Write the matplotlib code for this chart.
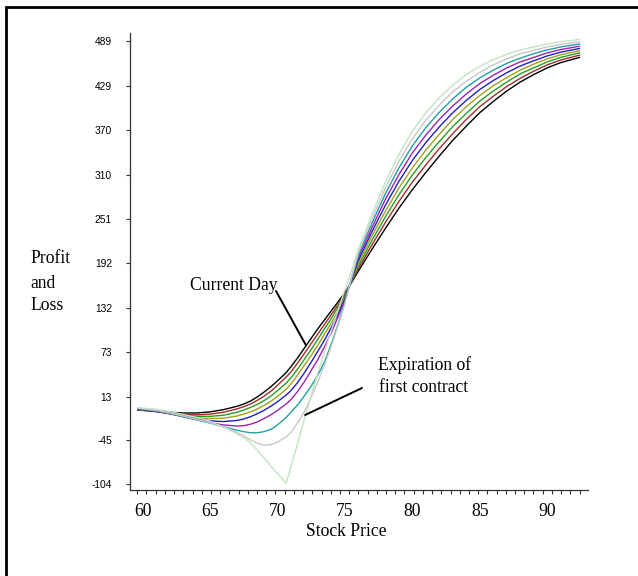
import numpy as np
import matplotlib.pyplot as plt
from matplotlib.patches import Rectangle

# stock price grid
price = [59.65, 61, 62, 63, 64, 65, 66, 67, 67.5, 68, 68.5, 69, 69.5, 70, 70.64, 71,
         71.5, 72, 72.5, 73, 73.5, 74, 74.5, 75, 75.5, 76, 77, 78, 79, 80, 81, 82,
         83, 84, 85, 86, 87, 88, 89, 90, 91, 92.4]

# P&L curves, from current day to expiration of first contract
day0 = [-5, -6.5, -8, -9, -9, -7.5, -4.5, 0, 3, 7, 12.5, 19, 26, 34, 45, 53,
        65, 78, 91, 104, 116, 128, 140, 152,
        166, 181, 210, 238, 265, 290, 313, 335, 356, 375, 393, 408, 422, 434, 444, 453, 460, 467]
day1 = [-5, -7, -9, -11, -11.5, -10.5, -8, -3.5, -0.5, 3, 8, 13.5, 20, 28, 39, 46,
        58, 71, 84, 97, 110, 123, 136, 150,
        167, 184.5, 216, 246, 274, 300, 323, 345, 365, 384, 401, 415, 428, 439, 448.5, 457, 463.5, 470]
day2 = [-4.5, -7, -9.5, -12, -13.5, -13.5, -12, -8, -5, -1.5, 2.5, 7.5, 13.5, 21, 31, 38,
        50, 63, 76, 90, 104, 118, 133, 148,
        168, 188, 222, 253.5, 283, 309.5, 333, 354.5, 374.5, 392, 408.5, 422, 434, 445, 453, 461, 467, 473]
day3 = [-4, -7, -10, -13, -15.5, -16.5, -16, -13, -10.5, -7.5, -3.5, 1, 6.5, 13, 23, 30,
        42, 55, 68, 82, 97, 112, 128, 146,
        169, 192, 228, 261, 292, 319, 343, 364, 384, 401, 416, 429, 440, 450, 458, 465, 470.5, 476]
day4 = [-4, -7, -10, -13.5, -17, -19.5, -20.5, -19, -17, -14, -10, -5.5, 0, 6, 15, 21,
        32, 45, 59, 74, 89, 106, 124, 144,
        170, 195.5, 233.5, 269, 301, 329, 353, 374, 393, 409.5, 424, 436, 446.5, 455.5, 462.5, 469, 474, 479]
day5 = [-3.5, -6.5, -10, -14, -18, -22, -25, -26.5, -26, -24, -21, -16.5, -11.5, -5.5, 3, 9,
        20, 33, 48, 63, 80, 99, 120, 142,
        171, 199, 239, 277, 310, 339, 363, 384, 402, 418, 432, 443, 453, 461, 467, 473, 477.5, 482]
day6 = [-3, -6, -9.5, -14, -18, -22.5, -27.5, -32, -34, -35.5, -35.5, -34, -31, -25, -15, -8,
        2, 14, 27, 42, 60, 84, 110, 140,
        172, 202.5, 245, 284.5, 319, 348.5, 373, 393.5, 411.5, 427, 439.5, 450, 459, 466, 472, 477, 481, 485]
day7 = [-2.5, -5.5, -9, -13, -17.5, -22, -27.5, -35, -39.5, -45, -49.5, -52, -51.5, -48, -41, -35,
        -22, -7, 12, 33, 56, 81, 108, 137,
        173, 206, 251, 292, 328, 358, 383, 403, 421, 435, 447, 457, 465, 472, 476.5, 481, 484.5, 488]
expiry = [-2, -4, -7, -11, -15, -20, -28, -37, -42, -49, -59, -69, -80, -90, -103, -81,
          -49, -17, 15, 45, 74, 102, 129, 156,
          182, 210, 257, 300, 337, 368, 393, 413, 430, 444, 455, 464, 471, 477, 481, 485, 488, 491]

curves = [day0, day1, day2, day3, day4, day5, day6, day7, expiry]
colors = ["#000000", "#a52a2a", "#22a022", "#a0a020", "#2020c0",
          "#a020b0", "#20a0a0", "#c8c8c8", "#c4e2c4"]

ytick_vals = [-104, -45, 13, 73, 132, 192, 251, 310, 370, 429, 489]
xtick_vals = [60, 65, 70, 75, 80, 85, 90]

serif = "Liberation Serif"
sans = "Liberation Sans"

fig = plt.figure(figsize=(6.38, 5.76), dpi=100)
ax = fig.add_axes([130/638, 1-490/576, 458/638, 457/576])

for ys, c in zip(curves, colors):
    ax.plot(price, ys, color=c, lw=1.0)

ax.set_xlim(59.06, 93.03)
ax.set_ylim(-112.1, 499.7)

for s in ["top", "right"]:
    ax.spines[s].set_visible(False)
for s in ["left", "bottom"]:
    ax.spines[s].set_color("#333333")
    ax.spines[s].set_linewidth(0.9)

ax.set_yticks(ytick_vals)
ax.set_yticklabels([str(v) for v in ytick_vals], fontfamily=sans, fontsize=7.4)
ax.tick_params(axis="y", direction="out", length=3, width=0.8, color="#333333", pad=10)

ax.set_xticks(xtick_vals)
ax.set_xticklabels([str(v) for v in xtick_vals], fontfamily=serif, fontsize=12.7)
ax.set_xticks(np.linspace(59.6, 92.4, 49), minor=True)
ax.tick_params(axis="x", which="major", length=0, pad=9)
ax.tick_params(axis="x", which="minor", direction="out", length=3, width=0.8, color="#333333")

fig.text(346/638, 1-531/576, "Stock Price", fontfamily=serif, fontsize=12.7,
         ha="center", va="center")
for txt, yp in [("Profit", 258), ("and", 283), ("Loss", 306)]:
    fig.text(30/638, 1-yp/576, txt, fontfamily=serif, fontsize=12.7, ha="left", va="center")

fig.text(190/638, 1-285/576, "Current Day", fontfamily=serif, fontsize=12.7,
         ha="left", va="center")
fig.text(378/638, 1-365/576, "Expiration of", fontfamily=serif, fontsize=12.7,
         ha="left", va="center")
fig.text(379/638, 1-388/576, "first contract", fontfamily=serif, fontsize=12.7,
         ha="left", va="center")

ax.annotate("", xy=(72.1, 82), xytext=(276, 576-291), textcoords="figure pixels",
            arrowprops=dict(arrowstyle="-", lw=1.4, color="black", shrinkA=0, shrinkB=0))
ax.annotate("", xy=(72.05, -11.7), xytext=(362, 576-388), textcoords="figure pixels",
            arrowprops=dict(arrowstyle="-", lw=1.4, color="black", shrinkA=0, shrinkB=0))

# outer frame
fig.patches.append(Rectangle((6/638, -0.1), 1.2, 1.1 - 7/576, transform=fig.transFigure,
                             fill=False, lw=2, edgecolor="black"))

plt.savefig("out.png", dpi=100)
